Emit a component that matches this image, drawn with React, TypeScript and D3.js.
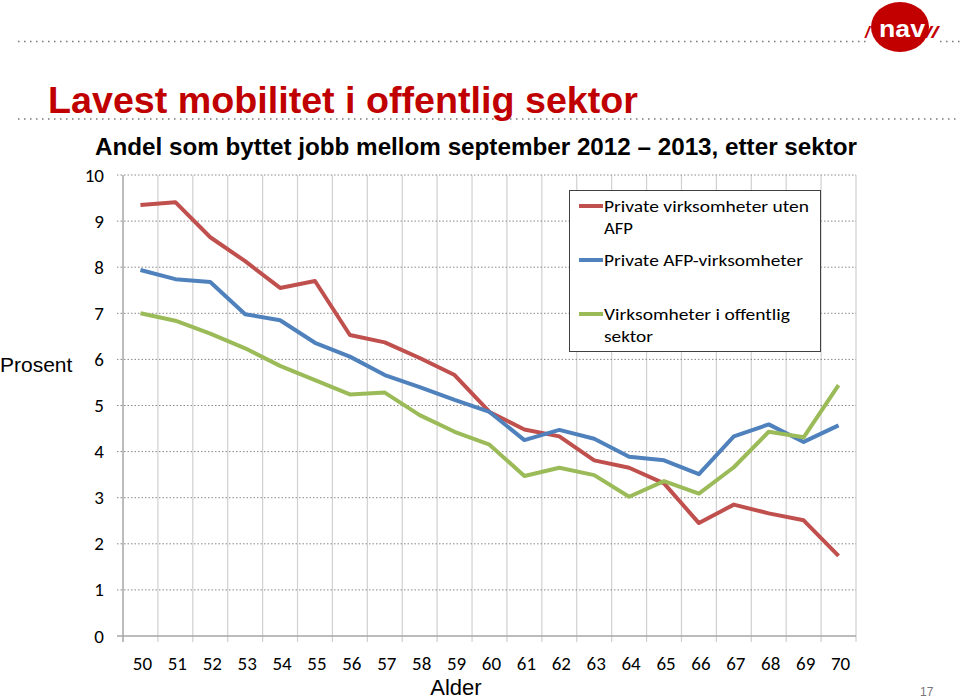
import React from "react";
import * as d3 from "d3";

const ages = ["50","51","52","53","54","55","56","57","58","59","60","61","62","63","64","65","66","67","68","69","70"];
const privatUtenAFP = [9.35,9.41,8.65,8.13,7.55,7.70,6.53,6.37,6.03,5.66,4.86,4.48,4.33,3.81,3.65,3.31,2.45,2.85,2.66,2.51,1.74];
const privatAFP = [7.94,7.74,7.68,6.98,6.85,6.36,6.06,5.66,5.40,5.12,4.86,4.25,4.47,4.28,3.89,3.81,3.51,4.33,4.59,4.21,4.57];
const offentlig = [7.00,6.84,6.56,6.24,5.86,5.55,5.24,5.28,4.79,4.43,4.15,3.47,3.65,3.49,3.02,3.36,3.09,3.66,4.43,4.31,5.44];
const yTicks = [0,1,2,3,4,5,6,7,8,9,10];

const seriesNames = ["Private virksomheter uten AFP", "Private AFP-virksomheter", "Virksomheter i offentlig sektor"];
const seriesColors = ["#C0504D", "#4F81BD", "#9BBB59"];
const seriesData = [privatUtenAFP, privatAFP, offentlig];

const W = 960, H = 699;
const M = { left: 123, right: 856, top: 175, bottom: 636 };

export default function App() {
  const x = d3.scaleBand<string>().domain(ages).range([M.left, M.right]).padding(0);
  const y = d3.scaleLinear().domain([0, 10]).range([M.bottom, M.top]);
  const line = d3.line<number>()
    .x((_, i) => (x(ages[i]) as number) + x.bandwidth() / 2)
    .y((d) => y(d));

  const boundaries = ages.map((a) => x(a) as number).concat([M.right]);
  const labelFont = "Carlito, Lato, 'Open Sans', sans-serif";
  const arial = "'Liberation Sans', Arial, sans-serif";

  const legendItems = [
    { ly: 206, lines: [{ t: "Private virksomheter uten", w: 205 }, { t: "AFP", w: 29 }] },
    { ly: 260, lines: [{ t: "Private AFP-virksomheter", w: 199 }] },
    { ly: 314, lines: [{ t: "Virksomheter i offentlig", w: 186 }, { t: "sektor", w: 49 }] },
  ];

  return (
    <svg width={W} height={H} style={{ position: "absolute", left: 0, top: 0, background: "#fff" }}>
      {/* top dotted lines */}
      <line x1={18} x2={866} y1={41.5} y2={41.5} stroke="#777" strokeWidth={1.5} strokeDasharray="1.5,4.5" />
      <line x1={940} x2={960} y1={41.5} y2={41.5} stroke="#777" strokeWidth={1.5} strokeDasharray="1.5,4.5" />
      <line x1={18} x2={960} y1={119} y2={119} stroke="#777" strokeWidth={1.5} strokeDasharray="1.5,4.5" />

      {/* logo */}
      <g>
        <ellipse cx={900} cy={27} rx={29} ry={25} fill="#C30000" />
        <text x={902} y={37} textAnchor="middle" fill="#fff" fontFamily={arial} fontWeight="900" fontSize={24}
          textLength={46} lengthAdjust="spacingAndGlyphs">nav</text>
        <text x={865} y={38} fill="#C30000" fontFamily={arial} fontWeight="bold" fontStyle="italic" fontSize={17}>/</text>
        <text x={925} y={38} fill="#C30000" fontFamily={arial} fontWeight="bold" fontStyle="italic" fontSize={17}
          textLength={13} lengthAdjust="spacingAndGlyphs">//</text>
      </g>

      {/* title */}
      <text x={48} y={113} fill="#C00000" fontFamily={arial} fontWeight="bold" fontSize={36}
        textLength={590} lengthAdjust="spacingAndGlyphs">Lavest mobilitet i offentlig sektor</text>
      <text x={95} y={155} fill="#000" fontFamily={arial} fontWeight="bold" fontSize={24}
        textLength={762} lengthAdjust="spacingAndGlyphs">Andel som byttet jobb mellom september 2012 – 2013, etter sektor</text>

      {/* vertical grid */}
      {boundaries.map((bx, i) => (
        <line key={"v" + i} x1={bx} x2={bx} y1={M.top} y2={M.bottom + 6} stroke={i === 0 ? "#A6A6A6" : "#D0D0D0"} strokeWidth={i === 0 ? 1.5 : 1.2} />
      ))}
      {/* horizontal dotted grid */}
      {yTicks.map((t) => (
        <line key={"h" + t} x1={M.left - 6} x2={M.right} y1={y(t)} y2={y(t)}
          stroke={t === 0 ? "#A6A6A6" : "#888"} strokeWidth={t === 0 ? 1.5 : 1} strokeDasharray={t === 0 ? undefined : "1.5,2"} />
      ))}

      {/* y tick labels */}
      {yTicks.map((t) => (
        <text key={"yl" + t} x={104} y={y(t) + 6.5} textAnchor="end" fontFamily={labelFont} fontSize={19} fill="#000">{t}</text>
      ))}
      {/* x tick labels */}
      {ages.map((a) => (
        <text key={"xl" + a} x={(x(a) as number) + x.bandwidth() / 2 + 2} y={670} textAnchor="middle" fontFamily={labelFont} fontSize={19} fill="#000">{a}</text>
      ))}

      {/* series */}
      {seriesData.map((s, i) => (
        <path key={"s" + i} d={line(s) || ""} fill="none" stroke={seriesColors[i]} strokeWidth={4} strokeLinejoin="round">
          <title>{seriesNames[i]}</title>
        </path>
      ))}

      {/* legend */}
      <rect x={569.5} y={190.5} width={251} height={161} fill="#fff" stroke="#404040" strokeWidth={1} />
      {legendItems.map((item, i) => (
        <g key={"lg" + i}>
          <line x1={579} x2={603} y1={item.ly} y2={item.ly} stroke={seriesColors[i]} strokeWidth={4} />
          {item.lines.map((ln, j) => (
            <text key={j} x={604} y={item.ly + 5.5 + j * 22.5} fontFamily={labelFont} fontSize={17} fill="#000"
              textLength={ln.w} lengthAdjust="spacingAndGlyphs">{ln.t}</text>
          ))}
        </g>
      ))}

      {/* axis titles */}
      <text x={0} y={372} fontFamily={arial} fontSize={21} fill="#000">Prosent</text>
      <text x={456} y={695} textAnchor="middle" fontFamily={arial} fontSize={22} fill="#000">Alder</text>
      <text x={920} y={696} fontFamily={arial} fontSize={12} fill="#777">17</text>
    </svg>
  );
}
